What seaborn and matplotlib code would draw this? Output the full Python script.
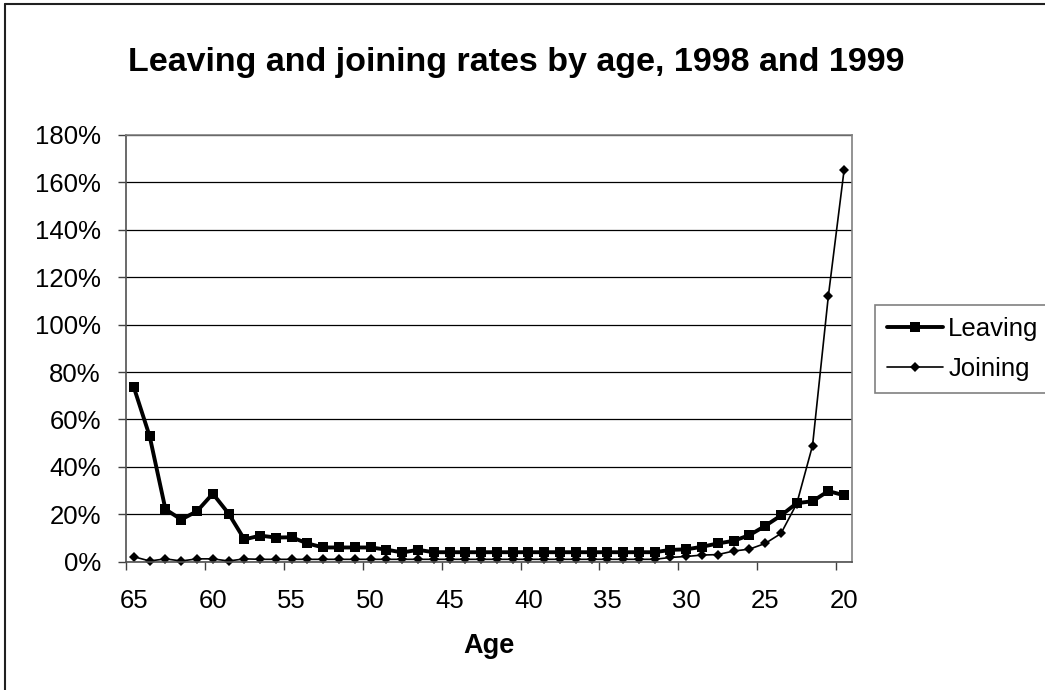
import numpy as np
import pandas as pd
import matplotlib
matplotlib.use("Agg")
import matplotlib.pyplot as plt
from matplotlib.lines import Line2D
from matplotlib.ticker import PercentFormatter, FixedLocator
import seaborn as sns

# ages run from 65 down to 20 (one point per age)
ages = list(range(65, 19, -1))

leaving = [73.5, 52.9, 22.1, 17.8, 21.3, 28.7, 20.3, 9.4, 11.0, 10.2,
           10.3, 7.7, 6.0, 6.0, 6.0, 6.0, 5.1, 3.9, 5.0, 4.0,
           4.0, 4.0, 4.0, 4.0, 4.0, 4.0, 4.0, 4.0, 4.0, 4.0,
           4.0, 4.0, 4.0, 4.0, 5.0, 5.2, 6.3, 7.7, 8.8, 11.2,
           15.1, 19.5, 24.7, 25.5, 29.8, 28.0]

joining = [2.1, 0.3, 1.2, 0.3, 1.2, 1.2, 0.3, 1.2, 1.0, 1.0,
           1.0, 1.0, 1.0, 1.0, 1.0, 1.0, 1.0, 1.0, 1.0, 1.0,
           1.0, 1.0, 1.0, 1.0, 1.0, 1.0, 1.0, 1.0, 1.0, 1.0,
           1.0, 1.0, 1.0, 1.0, 1.8, 2.2, 2.8, 3.0, 4.5, 5.3,
           7.7, 11.9, 24.5, 49.0, 112.0, 165.3]

label_ages = [65, 60, 55, 50, 45, 40, 35, 30, 25, 20]
y_ticks = [0, 20, 40, 60, 80, 100, 120, 140, 160, 180]

df = pd.DataFrame({"age": ages, "Leaving": leaving, "Joining": joining})

sns.set_theme(style="white")
plt.rcParams["font.family"] = ["Liberation Sans", "DejaVu Sans"]
plt.rcParams["text.color"] = "black"
plt.rcParams["axes.labelcolor"] = "black"

W, H = 1045, 690
fig = plt.figure(figsize=(W / 100, H / 100), dpi=100)
fig.patch.set_facecolor("white")
ax = fig.add_axes([126 / W, 1 - 561.7 / H, (852 - 126) / W, (561.7 - 135) / H])

sns.lineplot(data=df, x="age", y="Leaving", ax=ax, color="black", lw=2.8,
             marker="s", markersize=6.5, markeredgewidth=0, label="Leaving",
             clip_on=False)
sns.lineplot(data=df, x="age", y="Joining", ax=ax, color="black", lw=1.2,
             marker="D", markersize=5.5, markeredgewidth=0, label="Joining",
             clip_on=False)

# category-style axis: tick marks between categories, labels on categories
ax.set_xlim(65.5, 19.5)
ax.xaxis.set_major_locator(FixedLocator([a + 0.5 for a in label_ages]))
ax.xaxis.set_minor_locator(FixedLocator(label_ages))
ax.set_xticklabels([], minor=False)
ax.set_xticklabels([str(a) for a in label_ages], minor=True)
ax.tick_params(axis="x", which="major", direction="out", length=6, width=1,
               color="#404040", bottom=True)
ax.tick_params(axis="x", which="minor", length=0, pad=20, labelsize=18.5,
               labelcolor="black", bottom=True)

ax.set_ylim(0, 180)
ax.set_yticks(y_ticks)
ax.yaxis.set_major_formatter(PercentFormatter(xmax=100, decimals=0))
ax.tick_params(axis="y", direction="out", length=6, width=1, color="#404040",
               pad=12, labelsize=18.5, labelcolor="black", left=True)

ax.grid(axis="y", color="black", lw=0.9)
ax.grid(axis="x", visible=False)
ax.set_axisbelow(True)

for side in ["top", "right"]:
    ax.spines[side].set_color("#808080")
    ax.spines[side].set_linewidth(1.2)
for side in ["left", "bottom"]:
    ax.spines[side].set_color("#505050")
    ax.spines[side].set_linewidth(1.2)

ax.set_ylabel("")
ax.set_xlabel("Age", fontsize=19.5, fontweight="bold", labelpad=14,
              color="black")

fig.text(516 / W, 1 - 63 / H, "Leaving and joining rates by age, 1998 and 1999",
         ha="center", va="center", fontsize=24.5, fontweight="bold",
         color="black")

leg = ax.legend(loc="upper left", bbox_to_anchor=(875 / W, 1 - 305 / H),
                bbox_transform=fig.transFigure, frameon=True, fancybox=False,
                edgecolor="#808080", framealpha=1, fontsize=18.5,
                handlelength=2.2, handletextpad=0.2, borderpad=0.45,
                labelspacing=0.65, borderaxespad=0)
leg.get_frame().set_linewidth(1.2)
for t in leg.get_texts():
    t.set_color("black")

# outer chart border (left and top edges are visible)
fig.add_artist(Line2D([5 / W, 5 / W], [0, 1 - 4 / H], transform=fig.transFigure,
                      color="#202020", lw=1.5))
fig.add_artist(Line2D([5 / W, 1], [1 - 4 / H, 1 - 4 / H], transform=fig.transFigure,
                      color="#202020", lw=1.5))

fig.savefig("out.png", dpi=100, facecolor="white")
